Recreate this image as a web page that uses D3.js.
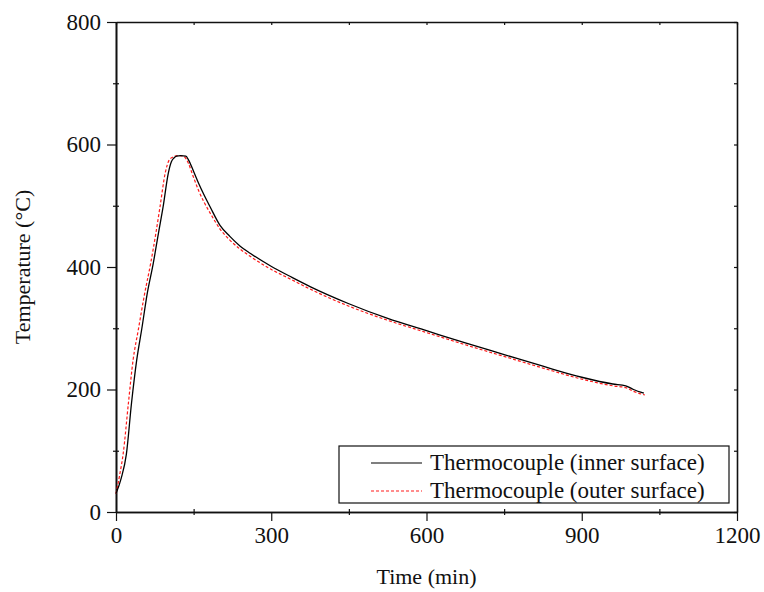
<!DOCTYPE html>
<html>
<head>
<meta charset="utf-8">
<script src="https://cdn.jsdelivr.net/npm/d3@7"></script>
<style>
	body { margin: 0; background: #fff; }
	text { font-family: "Liberation Serif", "Times New Roman", serif; fill: #111; }
</style>
</head>
<body>
<script>
// time in min, temperature in degC
let innerTime = [0, 10, 20, 30, 40, 50, 60, 72, 82, 91, 101, 107, 112, 117, 125, 135, 140, 150, 160, 170, 182, 201, 220, 240, 260, 298, 340, 375, 450, 525, 600, 675, 750, 825, 900, 960, 985, 1000, 1020]
let innerTemp = [30, 55, 94, 178, 248, 300, 355, 406, 455, 498, 553, 572, 578, 581, 582, 581, 575, 556, 536, 518, 498, 468, 450, 434, 422, 402, 383, 368, 340, 316, 296, 276, 257, 238, 220, 209, 206, 200, 194]
let outerTime = [0, 7, 14, 24, 33, 43, 55, 67, 77, 85, 95, 103, 109, 114, 122, 130, 136, 140, 150, 160, 170, 182, 201, 220, 240, 260, 298, 340, 375, 450, 525, 600, 675, 750, 825, 900, 960, 985, 1000, 1022]
let outerTemp = [30, 60, 96, 178, 248, 297, 355, 406, 455, 498, 553, 575, 579, 581, 582, 581, 576, 569, 546, 524, 506, 488, 462, 444, 429, 417, 397, 379, 364, 336, 313, 293, 273, 254, 235, 217, 206, 203, 197, 191]
let seriesNames = ["Thermocouple (inner surface)", "Thermocouple (outer surface)"]
let xTicks = [0, 300, 600, 900, 1200]
let yTicks = [0, 200, 400, 600, 800]

let width = 764, height = 592
let margin = {top: 22, right: 27, bottom: 80, left: 116}
let font = '"Liberation Serif", "Times New Roman", serif'

let svg = d3.select('body').append('svg').attr('width', width).attr('height', height)

let x = d3.scaleLinear().domain([0, 1200]).range([margin.left, width - margin.right])
let y = d3.scaleLinear().domain([0, 800]).range([height - margin.bottom, margin.top])

let xMinor = d3.range(150, 1200, 300)
let yMinor = d3.range(100, 800, 200)

// bottom axis
let gx = svg.append('g').attr('transform', `translate(0,${y(0)})`)
	.call(d3.axisBottom(x).tickValues(xTicks).tickFormat(d3.format('d')).tickSize(9).tickSizeOuter(0).tickPadding(6))
gx.append('g').call(d3.axisBottom(x).tickValues(xMinor).tickSize(3).tickFormat('').tickSizeOuter(0))
	.selectAll('.tick line').attr('y1', -3)

// left axis
let gy = svg.append('g').attr('transform', `translate(${x(0)},0)`)
	.call(d3.axisLeft(y).tickValues(yTicks).tickFormat(d3.format('d')).tickSize(9).tickSizeOuter(0).tickPadding(6))
gy.append('g').call(d3.axisLeft(y).tickValues(yMinor).tickSize(3).tickFormat('').tickSizeOuter(0))
	.selectAll('.tick line').attr('x1', 3)

// top and right axes, small inward ticks
svg.append('g').attr('transform', `translate(0,${y(800)})`)
	.call(d3.axisBottom(x).tickValues(xTicks.concat(xMinor)).tickSize(3).tickFormat('').tickSizeOuter(0))
svg.append('g').attr('transform', `translate(${x(1200)},0)`)
	.call(d3.axisLeft(y).tickValues(yTicks.concat(yMinor)).tickSize(3).tickFormat('').tickSizeOuter(0))

svg.selectAll('.domain').attr('stroke', '#111').attr('stroke-width', 1.6)
svg.selectAll('.tick line').attr('stroke', '#111').attr('stroke-width', 1.2)
svg.selectAll('.tick text').attr('font-size', 23).attr('font-family', font).attr('fill', '#111')

// axis titles
svg.append('text').attr('x', (x(0) + x(1200)) / 2).attr('y', 584)
	.attr('text-anchor', 'middle').attr('font-size', 22).text('Time (min)')
svg.append('text').attr('transform', `translate(30,${(y(0) + y(800)) / 2}) rotate(-90)`)
	.attr('text-anchor', 'middle').attr('font-size', 22).text('Temperature (°C)')

let line = d3.line().x(d => x(d[0])).y(d => y(d[1])).curve(d3.curveMonotoneX)

let innerData = d3.zip(innerTime, innerTemp)
let outerData = d3.zip(outerTime, outerTemp)

svg.append('path').datum(outerData).attr('d', line)
	.attr('fill', 'none').attr('stroke', '#ff1a1a').attr('stroke-width', 1.2).attr('stroke-dasharray', '3,2')
svg.append('path').datum(innerData).attr('d', line)
	.attr('fill', 'none').attr('stroke', '#000').attr('stroke-width', 1.3)

// legend
let legend = svg.append('g')
legend.append('rect').attr('x', 339).attr('y', 446).attr('width', 390).attr('height', 57)
	.attr('fill', '#fff').attr('stroke', '#111').attr('stroke-width', 1.2)
let styles = [{stroke: '#000', dash: null}, {stroke: '#ff1a1a', dash: '3,2'}]
seriesNames.forEach((name, i) => {
	let ly = 463 + i * 28
	legend.append('line').attr('x1', 371).attr('x2', 422).attr('y1', ly).attr('y2', ly)
		.attr('stroke', styles[i].stroke).attr('stroke-width', 1.2).attr('stroke-dasharray', styles[i].dash)
	legend.append('text').attr('x', 430).attr('y', ly + 7).attr('font-size', 23).text(name)
})
</script>
</body>
</html>
